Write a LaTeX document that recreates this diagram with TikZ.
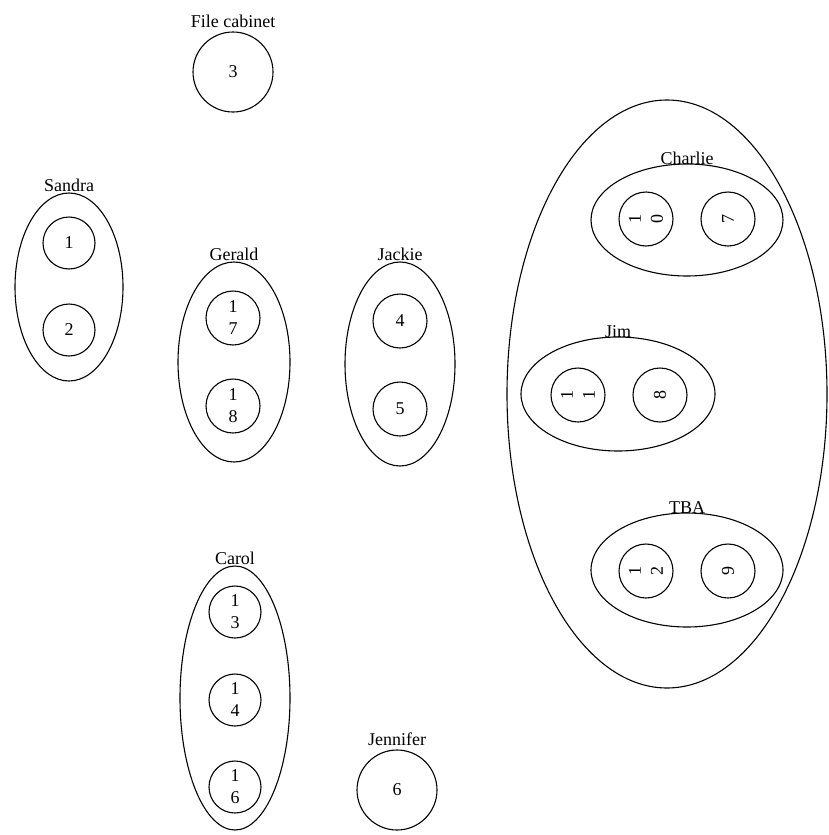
\documentclass[tikz,border=0pt]{standalone}
\usepackage{fontspec}
\setmainfont{Liberation Serif}
\usetikzlibrary{positioning,shapes.geometric}

\begin{document}
\begin{tikzpicture}[
  x=1pt, y=-1pt,
  font=\fontsize{18}{22}\selectfont,
  seat/.style={draw, circle, line width=1.1pt, inner sep=0pt, minimum size=54pt, align=center},
  bigseat/.style={seat, minimum size=80pt},
  grp/.style={draw, ellipse, line width=1.1pt, inner sep=0pt},
  who/.style={inner sep=1pt}
]
\useasboundingbox (0,0) rectangle (828,835);

% file cabinet
\node[bigseat] (fc) at (233,72) {3};
\node[who, above=3pt of fc] {File cabinet};

% Sandra
\node[grp, minimum width=108pt, minimum height=188pt] (sandra) at (69,287) {};
\node[who, above=0pt of sandra] {Sandra};
\node[seat, minimum size=52pt] (s1) at (69,243) {1};
\node[seat, minimum size=52pt] (s2) at (69,330) {2};

% Gerald
\node[grp, minimum width=112pt, minimum height=200pt] (gerald) at (234,362) {};
\node[who, above=0pt of gerald] {Gerald};
\node[seat] (s17) at (233,318) {1\\7};
\node[seat] (s18) at (233,406) {1\\8};

% Jackie
\node[grp, minimum width=110pt, minimum height=204pt] (jackie) at (400,364) {};
\node[who, above=0pt of jackie] {Jackie};
\node[seat] (s4) at (400,321) {4};
\node[seat] (s5) at (400,409) {5};

% Carol
\node[grp, minimum width=110pt, minimum height=264pt] (carol) at (235,698) {};
\node[who, above=0pt of carol] {Carol};
\node[seat, minimum size=52pt] (s13) at (235,612) {1\\3};
\node[seat, minimum size=52pt] (s14) at (235,700) {1\\4};
\node[seat, minimum size=52pt] (s16) at (235,787) {1\\6};

% Jennifer
\node[bigseat] (s6) at (397,790) {6};
\node[who, above=3pt of s6] {Jennifer};

% the big room on the right
\node[grp, minimum width=320pt, minimum height=588pt] (room) at (667,394) {};

\node[grp, minimum width=192pt, minimum height=112pt] (charlie) at (687,220) {};
\node[who, above=-2pt of charlie] {Charlie};
\node[seat, rotate=90] (s10) at (646,219) {1\\0};
\node[seat, rotate=90] (s7) at (728,219) {7};

\node[grp, minimum width=194pt, minimum height=114pt] (jim) at (618,394) {};
\node[who, above=-2pt of jim] {Jim};
\node[seat, rotate=90] (s11) at (578,395) {1\\1};
\node[seat, rotate=90] (s8) at (660,395) {8};

\node[grp, minimum width=192pt, minimum height=114pt] (tba) at (687,570) {};
\node[who, above=-2pt of tba] {TBA};
\node[seat, rotate=90] (s12) at (646,571) {1\\2};
\node[seat, rotate=90] (s9) at (728,571) {9};
\end{tikzpicture}
\end{document}
